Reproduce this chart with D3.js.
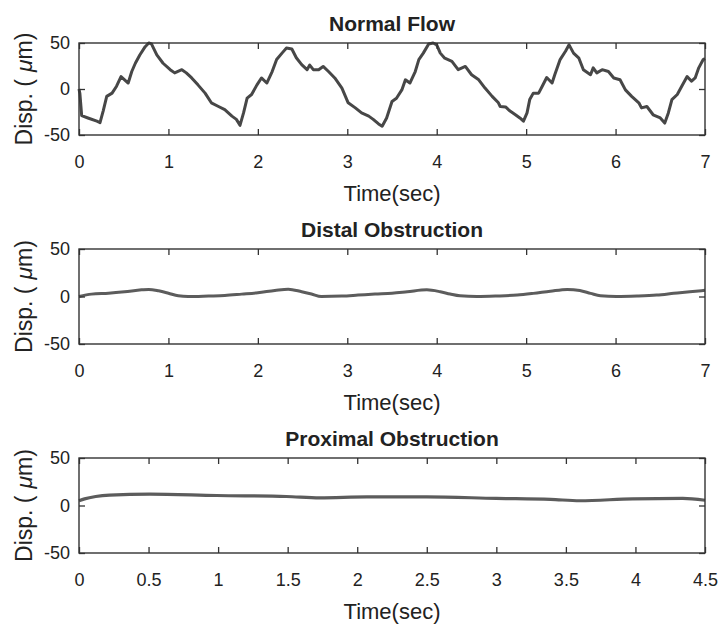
<!DOCTYPE html>
<html>
  <head>
    <meta charset="utf-8" />
    <title>Disp. vs time</title>
    <script src="https://cdn.jsdelivr.net/npm/d3@7"></script>
    <style>
      body { margin: 0; background: #fff; }
      svg text { font-family: "Liberation Sans", Arial, sans-serif; fill: #222; }
    </style>
  </head>
  <body>
    <div id="chart"></div>
    <script>
      // values
      var normalTime = [0, 0.01, 0.03, 0.10, 0.20, 0.235, 0.27, 0.31, 0.37, 0.42, 0.47, 0.51, 0.55, 0.59, 0.63, 0.68, 0.74, 0.78, 0.81, 0.87, 0.94, 1.02, 1.07, 1.15, 1.20, 1.26, 1.33, 1.41, 1.48, 1.56, 1.63, 1.71, 1.76, 1.80, 1.84, 1.88, 1.93, 1.99, 2.04, 2.10, 2.16, 2.21, 2.27, 2.32, 2.38, 2.43, 2.49, 2.55, 2.58, 2.62, 2.68, 2.73, 2.79, 2.86, 2.94, 3.01, 3.09, 3.16, 3.24, 3.29, 3.35, 3.39, 3.44, 3.50, 3.55, 3.61, 3.65, 3.70, 3.76, 3.80, 3.85, 3.91, 3.96, 4.00, 4.04, 4.09, 4.17, 4.24, 4.32, 4.39, 4.47, 4.54, 4.62, 4.69, 4.71, 4.77, 4.82, 4.88, 4.93, 4.97, 5.01, 5.04, 5.08, 5.14, 5.18, 5.23, 5.29, 5.32, 5.38, 5.44, 5.48, 5.53, 5.59, 5.64, 5.72, 5.75, 5.79, 5.85, 5.92, 5.98, 6.05, 6.11, 6.18, 6.26, 6.29, 6.35, 6.42, 6.50, 6.55, 6.59, 6.63, 6.69, 6.74, 6.80, 6.85, 6.89, 6.93, 6.98, 7.00];
      var normalDisp = [0, -5, -29, -31.5, -35, -36.5, -24, -8, -4.5, 3, 13.5, 10, 6.5, 19, 28, 37, 46, 50, 49, 37, 28, 21, 17.5, 21, 17.5, 12, 4.5, -4.5, -15, -19, -22.5, -29.5, -33, -39.5, -26, -10, -6, 4.5, 12, 6.5, 19, 32, 39, 44.5, 43.5, 34, 26.5, 21, 26, 21, 21, 24.5, 19, 12, 1, -15, -20.5, -26, -29.5, -33, -38, -40.5, -31.5, -13.5, -10, -1, 10, 6.5, 19, 32, 39, 49, 50, 48, 39, 33.5, 30, 21, 24.5, 15.5, 10, 1, -8, -15, -19, -19.5, -24, -28, -31.5, -35, -26, -11.5, -4.5, -4.5, 3, 12.5, 6.5, 15.5, 32, 41, 48, 39, 33.5, 21, 15.5, 23, 17.5, 21, 19, 12, 10, -1, -8, -15, -20.5, -19, -28, -31.5, -37, -26, -11.5, -6, 3, 13.5, 8.5, 12, 23, 32, 33];

      var distalTime = [0, 0.14, 0.33, 0.51, 0.70, 0.78, 0.89, 1.0, 1.11, 1.22, 1.45, 1.63, 1.82, 2.0, 2.19, 2.34, 2.49, 2.60, 2.71, 2.94, 3.12, 3.31, 3.50, 3.67, 3.89, 4.04, 4.15, 4.26, 4.45, 4.67, 4.90, 5.08, 5.27, 5.46, 5.60, 5.72, 5.83, 6.01, 6.24, 6.46, 6.65, 6.83, 7.0];
      var distalDisp = [0, 2.5, 3.5, 5, 7, 7.5, 6, 3.5, 0.7, 0, 0.5, 1, 2.5, 4, 6.3, 7.7, 5, 2.6, 0, 0.5, 1.5, 2.6, 3.5, 5, 7, 5, 2.6, 0.7, 0, 0.5, 1.5, 3.3, 5.6, 7.5, 6.3, 3.3, 0.7, 0, 0.5, 1.5, 3.3, 5, 6.5];

      var proximalTime = [0, 0.04, 0.12, 0.22, 0.51, 0.99, 1.49, 1.73, 2.07, 2.5, 3.0, 3.39, 3.6, 3.98, 4.34, 4.5];
      var proximalDisp = [5, 7, 9.5, 11, 12, 10.5, 9.5, 8, 9, 9, 7.5, 6.5, 5, 7, 7.5, 5.5];

      var titles = ["Normal Flow", "Distal Obstruction", "Proximal Obstruction"];
      var ticks7 = [0, 1, 2, 3, 4, 5, 6, 7];
      var ticks45 = [0, 0.5, 1, 1.5, 2, 2.5, 3, 3.5, 4, 4.5];
      var yTicks = [-50, 0, 50];

      var width = 723;
      var height = 630;

      var svg = d3
        .select("#chart")
        .append("svg")
        .attr("width", width)
        .attr("height", height);

      var left = 79;
      var right = 705;

      var panels = [
        { top: 43, bottom: 135, time: normalTime, disp: normalDisp, xmax: 7, ticks: ticks7, color: "#474747", stroke: 3, curve: d3.curveLinear },
        { top: 249, bottom: 344, time: distalTime, disp: distalDisp, xmax: 7, ticks: ticks7, color: "#5c5c5c", stroke: 3, curve: d3.curveMonotoneX },
        { top: 458, bottom: 553, time: proximalTime, disp: proximalDisp, xmax: 4.5, ticks: ticks45, color: "#5c5c5c", stroke: 3.2, curve: d3.curveMonotoneX }
      ];

      panels.forEach(function (p, i) {
        var x = d3.scaleLinear().domain([0, p.xmax]).range([left, right]);
        var y = d3.scaleLinear().domain([-50, 50]).range([p.bottom, p.top]);
        var g = svg.append("g");
        var points = p.time.map(function (t, k) {
          return [t, p.disp[k]];
        });

        var line = d3
          .line()
          .x(function (d) { return x(d[0]); })
          .y(function (d) { return y(d[1]); })
          .curve(p.curve);

        g.append("path")
          .datum(points)
          .attr("d", line)
          .attr("fill", "none")
          .attr("stroke", p.color)
          .attr("stroke-width", p.stroke)
          .attr("stroke-linejoin", "round");

        // bottom and top axes, ticks pointing inward
        var xb = g.append("g")
          .attr("transform", "translate(0," + p.bottom + ")")
          .call(d3.axisBottom(x).tickValues(p.ticks).tickSizeInner(-6).tickSizeOuter(0).tickPadding(20).tickFormat(String));
        var xt = g.append("g")
          .attr("transform", "translate(0," + p.top + ")")
          .call(d3.axisTop(x).tickValues(p.ticks).tickSizeInner(-6).tickSizeOuter(0).tickFormat(""));
        var yl = g.append("g")
          .attr("transform", "translate(" + left + ",0)")
          .call(d3.axisLeft(y).tickValues(yTicks).tickSizeInner(-6).tickSizeOuter(0).tickPadding(9).tickFormat(String));
        var yr = g.append("g")
          .attr("transform", "translate(" + right + ",0)")
          .call(d3.axisRight(y).tickValues(yTicks).tickSizeInner(-6).tickSizeOuter(0).tickFormat(""));

        [xb, xt, yl, yr].forEach(function (a) {
          a.select(".domain").remove();
          a.selectAll("line").attr("stroke", "#333").attr("stroke-width", 1.3);
          a.selectAll("text").style("font-size", "18px").attr("fill", "#2a2a2a");
        });
        xb.selectAll("text").attr("dy", "0.71em");

        g.append("rect")
          .attr("x", left)
          .attr("y", p.top)
          .attr("width", right - left)
          .attr("height", p.bottom - p.top)
          .attr("fill", "none")
          .attr("stroke", "#333")
          .attr("stroke-width", 1.4);

        g.append("text")
          .attr("x", (left + right) / 2)
          .attr("y", p.top - 12)
          .attr("text-anchor", "middle")
          .style("font-size", "21px")
          .style("font-weight", "bold")
          .text(titles[i]);

        g.append("text")
          .attr("x", (left + right) / 2)
          .attr("y", p.bottom + 66)
          .attr("text-anchor", "middle")
          .style("font-size", "22px")
          .text("Time(sec)");

        var yc = (p.top + p.bottom) / 2;
        var lab = g.append("text")
          .attr("transform", "translate(32," + yc + ") rotate(-90)")
          .attr("text-anchor", "middle")
          .style("font-size", "23px");
        lab.append("tspan").text("Disp. (");
        lab.append("tspan").attr("dx", 7).style("font-style", "italic").text("μ");
        lab.append("tspan").text("m)");
      });
    </script>
  </body>
</html>
